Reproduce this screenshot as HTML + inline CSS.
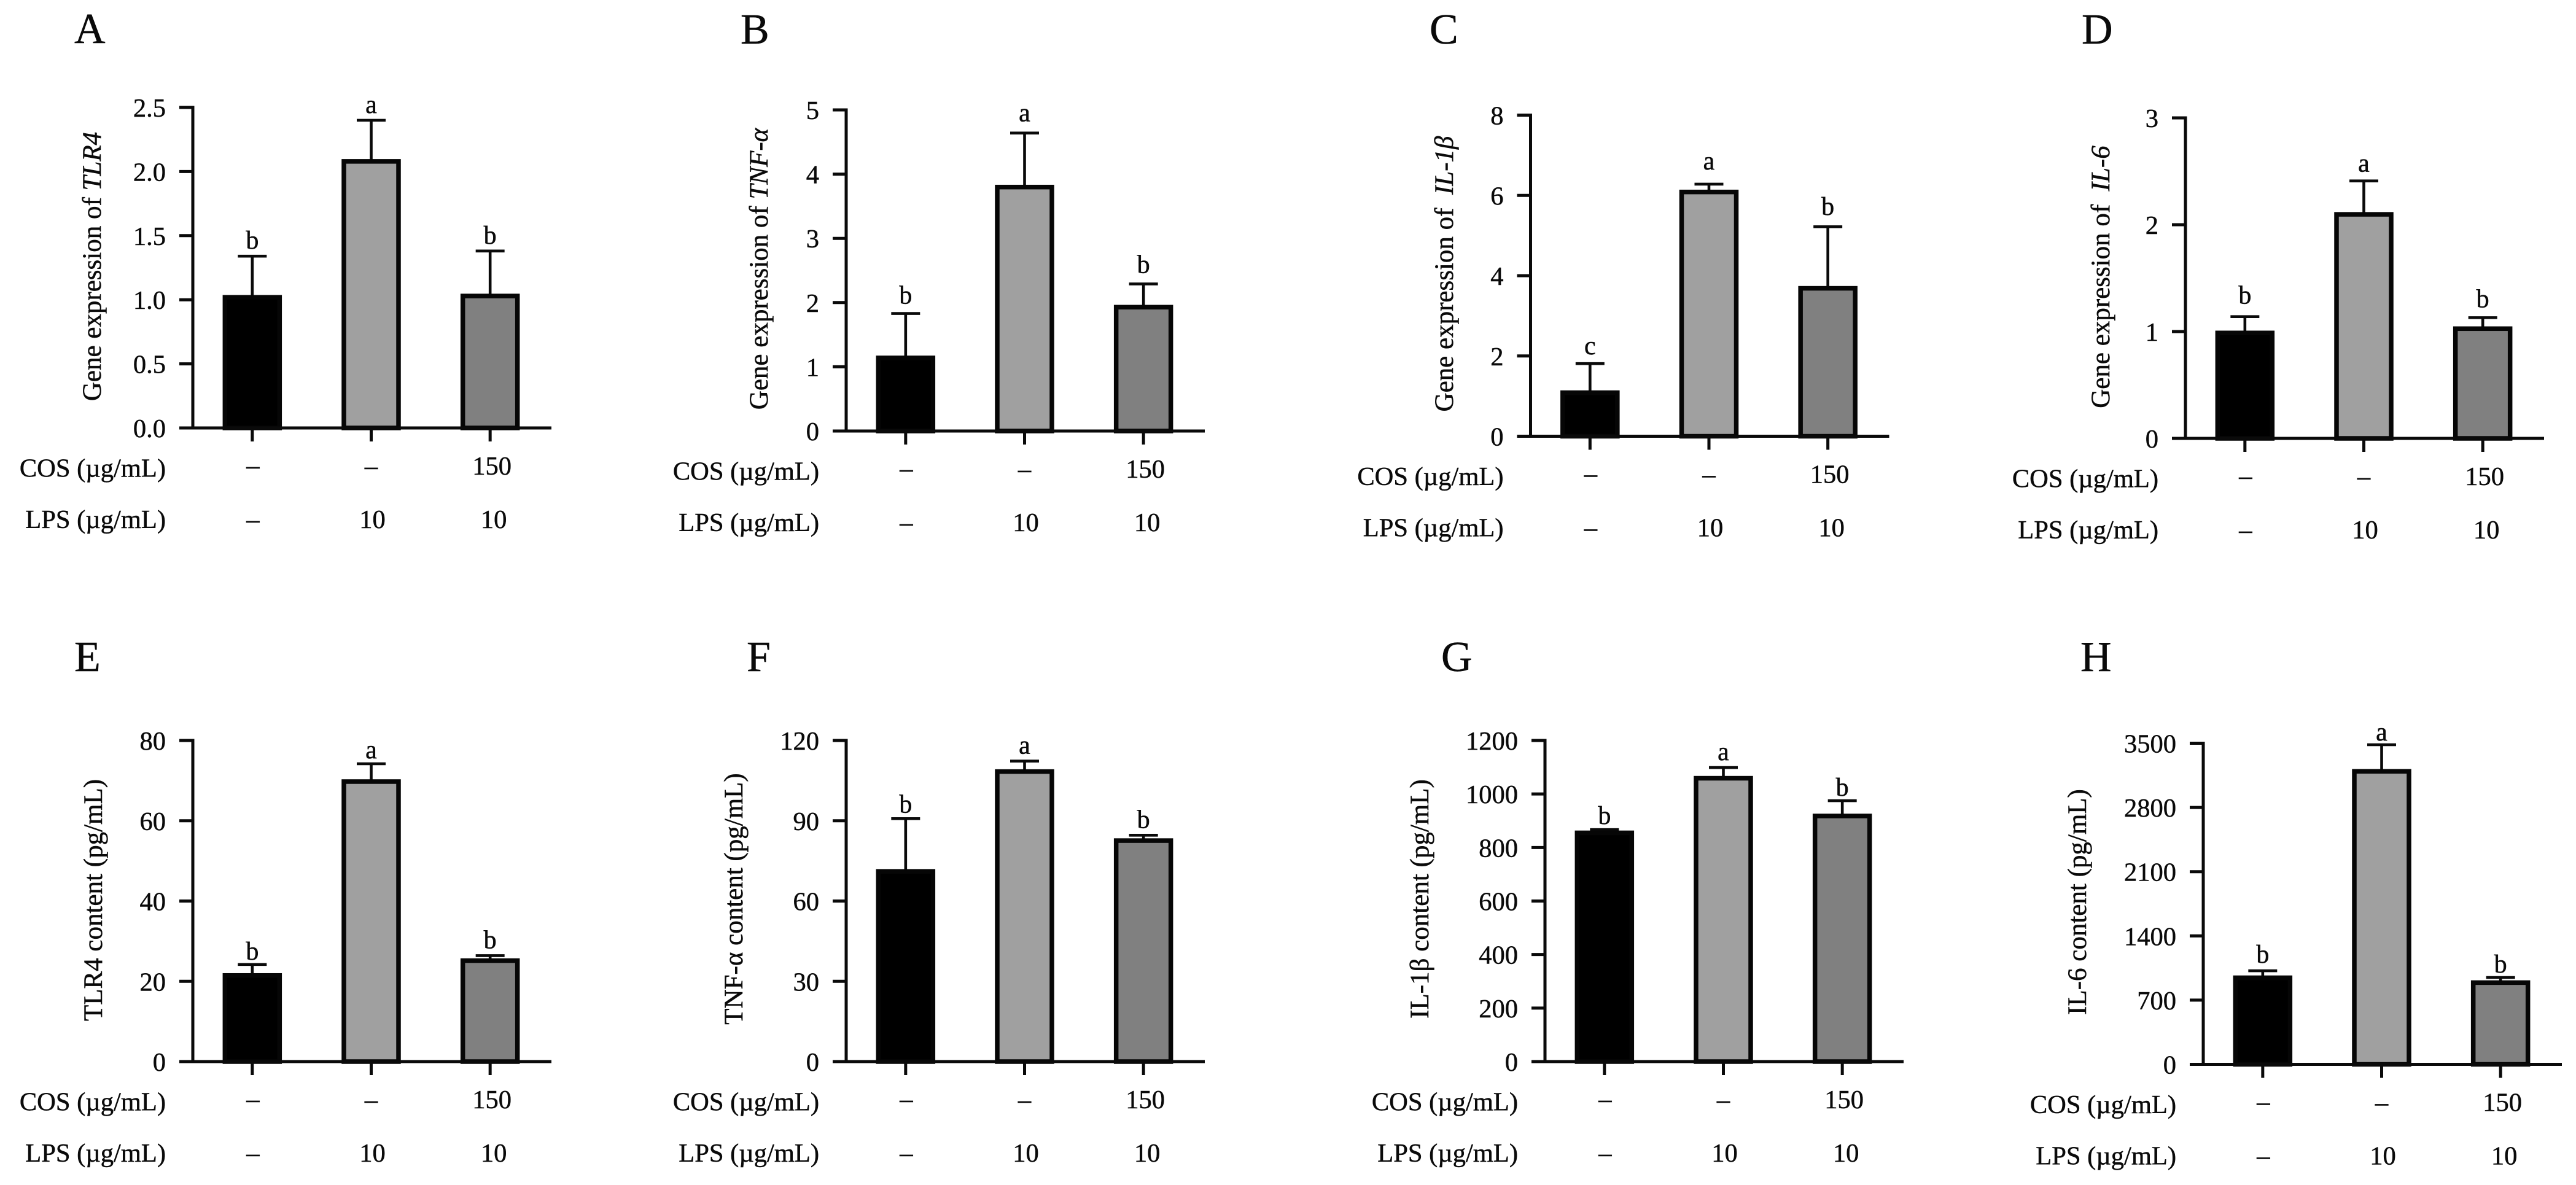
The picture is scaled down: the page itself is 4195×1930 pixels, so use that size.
<!DOCTYPE html>
<html lang="en">
<head>
<meta charset="utf-8">
<title>Gene expression and cytokine content bar charts</title>
<style>
html,body{margin:0;padding:0;background:#fff;width:4195px;height:1930px;overflow:hidden}
svg{display:block}
text{font-family:"Liberation Serif","DejaVu Serif",serif;fill:#0a0a0a;stroke:#0a0a0a;stroke-width:0.5px}
</style>
</head>
<body>
<svg id="figure" xmlns="http://www.w3.org/2000/svg" width="4195" height="1930" viewBox="0 0 4195 1930"></svg>
<script>
const groupNames = ['control', 'lps', 'cos-lps'];
const cosRowValues = ['–', '–', '150'];
const lpsRowValues = ['–', '10', '10'];

const ticksA = ['0.0', '0.5', '1.0', '1.5', '2.0', '2.5'];
const meansA = [1.03, 2.09, 1.04];
const errorsA = [0.31, 0.31, 0.34];
const lettersA = ['b', 'a', 'b'];

const ticksB = ['0', '1', '2', '3', '4', '5'];
const meansB = [1.16, 3.82, 1.95];
const errorsB = [0.67, 0.82, 0.34];
const lettersB = ['b', 'a', 'b'];

const ticksC = ['0', '2', '4', '6', '8'];
const meansC = [1.12, 6.12, 3.72];
const errorsC = [0.69, 0.16, 1.50];
const lettersC = ['c', 'a', 'b'];

const ticksD = ['0', '1', '2', '3'];
const meansD = [1.00, 2.11, 1.04];
const errorsD = [0.14, 0.30, 0.09];
const lettersD = ['b', 'a', 'b'];

const ticksE = ['0', '20', '40', '60', '80'];
const meansE = [21.8, 70.1, 25.5];
const errorsE = [2.4, 4.1, 0.9];
const lettersE = ['b', 'a', 'b'];

const ticksF = ['0', '30', '60', '90', '120'];
const meansF = [71.6, 108.9, 83.1];
const errorsF = [19.2, 3.4, 1.5];
const lettersF = ['b', 'a', 'b'];

const ticksG = ['0', '200', '400', '600', '800', '1000', '1200'];
const meansG = [860, 1064, 923];
const errorsG = [7, 35, 52];
const lettersG = ['b', 'a', 'b'];

const ticksH = ['0', '700', '1400', '2100', '2800', '3500'];
const meansH = [959, 3209, 906];
const errorsH = [61, 275, 41];
const lettersH = ['b', 'a', 'b'];

const svg = document.getElementById('figure');
const NS = 'http://www.w3.org/2000/svg';
const FONT = 42.5;
const PLOT_W = 581;
const BAR_W = 96.5;
const BAR_STROKE = 7.5;
const AXIS_W = 5;
const ERR_W = 4.6;
const CAP_W = 47;
const TICK_LEN = 22;
const BAR_FILLS = ['#000000', '#a0a0a0', '#808080'];

function make(parent, tag, props, content) {
  const el = document.createElementNS(NS, tag);
  for (const k in props) el.setAttribute(k, props[k]);
  if (content !== undefined) el.textContent = content;
  parent.appendChild(el);
  return el;
}

function drawPanel(p) {
  const g = make(svg, 'g', {});
  
  

  const maxV = Number(p.ticks[p.ticks.length - 1]);
  const yScale = v => p.bottom - (v / maxV) * (p.bottom - p.top);
  const xScale = i => p.axisX + (i + 0.5) * PLOT_W / 3;

  const letter = make(g, 'text', {x: p.letterX, y: p.letterY, 'font-size': 70}, p.id);
  
  

  const yTitle = make(g, 'text', {
    transform: 'translate(' + p.titleX + ',' + p.titleY + ') rotate(-90)',
    'text-anchor': 'middle', 'font-size': 43
  });
  
  
  p.title.forEach(part => {
    make(yTitle, 'tspan', part[1] ? {'font-style': 'italic'} : {}, part[0]);
  });

  groupNames.forEach((name, i) => {
    const x = xScale(i);
    const w = BAR_W - BAR_STROKE;
    const yTop = yScale(p.means[i]);
    const yErr = yScale(p.means[i] + p.errors[i]);

    const stem = make(g, 'line', {x1: x, x2: x, y1: yTop, y2: yErr, stroke: '#0a0a0a', 'stroke-width': ERR_W});
    
    

    const cap = make(g, 'line', {x1: x - CAP_W / 2, x2: x + CAP_W / 2, y1: yErr, y2: yErr, stroke: '#0a0a0a', 'stroke-width': ERR_W});
    
    

    const bar = make(g, 'rect', {
      x: x - w / 2, y: yTop + BAR_STROKE / 2 - 1.5, width: w,
      height: Math.max(0, p.bottom - yTop - BAR_STROKE / 2 + 1.5),
      fill: BAR_FILLS[i], stroke: '#060606', 'stroke-width': BAR_STROKE
    });
    
    

    const sig = make(g, 'text', {x: x, y: yErr - p.gaps[i], 'text-anchor': 'middle', 'font-size': 42}, p.letters[i]);
    
    

    const xTick = make(g, 'line', {x1: x, x2: x, y1: p.bottom, y2: p.bottom + TICK_LEN, stroke: '#0a0a0a', 'stroke-width': AXIS_W});
    
    

    const cosValue = make(g, 'text', {
      x: x + [1, 0, 3][i], y: p.bottom + [75, 76, 76][i],
      'text-anchor': 'middle', 'font-size': FONT
    }, cosRowValues[i]);
    
    

    const lpsValue = make(g, 'text', {
      x: x + [1, 2, 6][i], y: p.bottom + 163,
      'text-anchor': 'middle', 'font-size': FONT
    }, lpsRowValues[i]);
    
    
  });

  const yAxis = make(g, 'line', {x1: p.axisX, x2: p.axisX, y1: p.top - AXIS_W / 2, y2: p.bottom, stroke: '#0a0a0a', 'stroke-width': AXIS_W});
  
  

  const xAxis = make(g, 'line', {x1: p.axisX - TICK_LEN, x2: p.axisX + PLOT_W + 3, y1: p.bottom, y2: p.bottom, stroke: '#0a0a0a', 'stroke-width': AXIS_W});
  
  

  p.ticks.forEach(label => {
    const y = yScale(Number(label));
    const tick = make(g, 'line', {x1: p.axisX - TICK_LEN, x2: p.axisX, y1: y, y2: y, stroke: '#0a0a0a', 'stroke-width': AXIS_W});
    
    

    const tickLabel = make(g, 'text', {x: p.axisX - 44, y: y + 15, 'text-anchor': 'end', 'font-size': FONT}, label);
    
    
  });

  const cosLabel = make(g, 'text', {x: p.axisX - 44, y: p.bottom + 79.5, 'text-anchor': 'end', 'font-size': FONT}, 'COS (µg/mL)');
  
  

  const lpsLabel = make(g, 'text', {x: p.axisX - 44, y: p.bottom + 163, 'text-anchor': 'end', 'font-size': FONT}, 'LPS (µg/mL)');
  
  
}

drawPanel({id: 'A', ticks: ticksA, means: meansA, errors: errorsA, letters: lettersA, gaps: [12, 12, 12],
  axisX: 314, top: 175, bottom: 697, letterX: 121, letterY: 70, titleX: 164, titleY: 434,
  title: [['Gene expression of ', false], ['TLR4', true]]});
drawPanel({id: 'B', ticks: ticksB, means: meansB, errors: errorsB, letters: lettersB, gaps: [16, 19, 18],
  axisX: 1378, top: 179, bottom: 702, letterX: 1206, letterY: 71, titleX: 1250, titleY: 438,
  title: [['Gene expression of ', false], ['TNF-α', true]]});
drawPanel({id: 'C', ticks: ticksC, means: meansC, errors: errorsC, letters: lettersC, gaps: [15, 24, 19],
  axisX: 2492.5, top: 187.5, bottom: 710.5, letterX: 2328, letterY: 71, titleX: 2366, titleY: 446,
  title: [['Gene expression of \u00a0', false], ['IL-1β', true]]});
drawPanel({id: 'D', ticks: ticksD, means: meansD, errors: errorsD, letters: lettersD, gaps: [21, 15, 17],
  axisX: 3559, top: 192, bottom: 714, letterX: 3390, letterY: 71, titleX: 3435, titleY: 451,
  title: [['Gene expression of \u00a0', false], ['IL-6', true]]});
drawPanel({id: 'E', ticks: ticksE, means: meansE, errors: errorsE, letters: lettersE, gaps: [8, 9, 12],
  axisX: 314, top: 1206, bottom: 1729, letterX: 121, letterY: 1093, titleX: 166, titleY: 1466,
  title: [['TLR4 content (pg/mL)', false]]});
drawPanel({id: 'F', ticks: ticksF, means: meansF, errors: errorsF, letters: lettersF, gaps: [10, 12, 12],
  axisX: 1378, top: 1206, bottom: 1729, letterX: 1216, letterY: 1093, titleX: 1209, titleY: 1464,
  title: [['TNF-α content (pg/mL)', false]]});
drawPanel({id: 'G', ticks: ticksG, means: meansG, errors: errorsG, letters: lettersG, gaps: [9, 12, 8],
  axisX: 2516, top: 1206, bottom: 1729, letterX: 2347, letterY: 1093, titleX: 2326, titleY: 1464,
  title: [['IL-1β content (pg/mL)', false]]});
drawPanel({id: 'H', ticks: ticksH, means: meansH, errors: errorsH, letters: lettersH, gaps: [13, 7, 8],
  axisX: 3588, top: 1210.5, bottom: 1733.5, letterX: 3388, letterY: 1093, titleX: 3397, titleY: 1469,
  title: [['IL-6 content (pg/mL)', false]]});
</script>
</body>
</html>
